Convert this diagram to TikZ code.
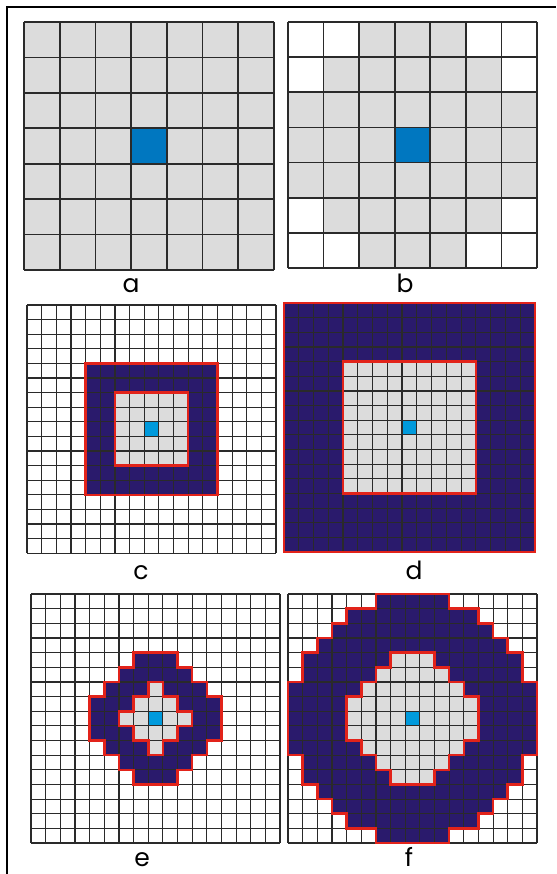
\documentclass[tikz,border=0pt]{standalone}
\usepackage{fontspec}
\setmainfont{Poppins}
\definecolor{cellgrey}{HTML}{DCDCDC}
\definecolor{navy}{HTML}{2A1A6C}
\definecolor{blueA}{HTML}{0077C0}
\definecolor{blueB}{HTML}{009ADC}
\definecolor{redline}{HTML}{E2231A}
\definecolor{gridline}{HTML}{2A2A2A}
\tikzset{
  coarse/.style={draw=gridline, line width=1.8pt},
  fine/.style={draw=gridline, line width=1.2pt},
  redb/.style={draw=redline, line width=2.6pt, line join=miter},
  lab/.style={font=\fontsize{25}{25}\selectfont, anchor=base, inner sep=0pt},
  frame/.style={draw=black, line width=2.5pt}
}
\begin{document}
\begin{tikzpicture}[x=1pt,y=-1pt]
\useasboundingbox (0,0) rectangle (556,874);
\fill[white] (0,0) rectangle (556,874);
% frame
\draw[frame] (7,874) -- (7,7) -- (556,7);

% ---- grid a ----
\begin{scope}[shift={(24pt,-22pt)}, x=35.71pt, y=-35.43pt]
  \fill[cellgrey] (0,0) rectangle (7,7);
  \fill[blueA] (3,3) rectangle (4,4);
  \foreach \i in {0,...,7} {\draw[coarse] (\i,0) -- (\i,7); \draw[coarse] (0,\i) -- (7,\i);}
\end{scope}

% ---- grid b ----
\begin{scope}[shift={(288pt,-22pt)}, x=35.57pt, y=-35.14pt]
  \fill[cellgrey] (0,0) rectangle (7,7);
  \foreach \c/\r in {0/0,1/0,5/0,6/0,0/1,6/1,0/5,6/5,0/6,1/6,5/6,6/6}
    {\fill[white] (\c,\r) rectangle ++(1,1);}
  \fill[blueA] (3,3) rectangle (4,4);
  \foreach \i in {0,...,7} {\draw[coarse] (\i,0) -- (\i,7); \draw[coarse] (0,\i) -- (7,\i);}
\end{scope}

% ---- grid c ----
\begin{scope}[shift={(27pt,-305pt)}, x=14.65pt, y=-14.6pt]
  \fill[navy] (4,4) rectangle (13,13);
  \fill[cellgrey] (6,6) rectangle (11,11);
  \fill[blueB] (8,8) rectangle (9,9);
  \foreach \i in {0,...,17} {\draw[fine] (\i,0) -- (\i,17); \draw[fine] (0,\i) -- (17,\i);}
  \draw[redb] (4,4) rectangle (13,13);
  \draw[redb] (6,6) rectangle (11,11);
\end{scope}

% ---- grid d ----
\begin{scope}[shift={(284pt,-303pt)}, x=14.76pt, y=-14.65pt]
  \fill[navy] (0,0) rectangle (17,17);
  \fill[cellgrey] (4,4) rectangle (13,13);
  \fill[blueB] (8,8) rectangle (9,9);
  \foreach \i in {0,...,17} {\draw[fine] (\i,0) -- (\i,17); \draw[fine] (0,\i) -- (17,\i);}
  \draw[redb] (0,0) rectangle (17,17);
  \draw[redb] (4,4) rectangle (13,13);
\end{scope}

% ---- grid e ----
\begin{scope}[shift={(31pt,-594pt)}, x=14.65pt, y=-14.65pt]
  \fill[navy] (7,4) -- (10,4) -- (10,5) -- (11,5) -- (11,6) -- (12,6) -- (12,7) -- (13,7) -- (13,10) -- (12,10) -- (12,11) -- (11,11) -- (11,12) -- (10,12) -- (10,13) -- (7,13) -- (7,12) -- (6,12) -- (6,11) -- (5,11) -- (5,10) -- (4,10) -- (4,7) -- (5,7) -- (5,6) -- (6,6) -- (6,5) -- (7,5) -- cycle;
  \fill[cellgrey] (8,6) -- (9,6) -- (9,7) -- (10,7) -- (10,8) -- (11,8) -- (11,9) -- (10,9) -- (10,10) -- (9,10) -- (9,11) -- (8,11) -- (8,10) -- (7,10) -- (7,9) -- (6,9) -- (6,8) -- (7,8) -- (7,7) -- (8,7) -- cycle;
  \fill[blueB] (8,8) rectangle (9,9);
  \foreach \i in {0,...,17} {\draw[fine] (\i,0) -- (\i,17); \draw[fine] (0,\i) -- (17,\i);}
  \draw[redb] (7,4) -- (10,4) -- (10,5) -- (11,5) -- (11,6) -- (12,6) -- (12,7) -- (13,7) -- (13,10) -- (12,10) -- (12,11) -- (11,11) -- (11,12) -- (10,12) -- (10,13) -- (7,13) -- (7,12) -- (6,12) -- (6,11) -- (5,11) -- (5,10) -- (4,10) -- (4,7) -- (5,7) -- (5,6) -- (6,6) -- (6,5) -- (7,5) -- cycle;
  \draw[redb] (8,6) -- (9,6) -- (9,7) -- (10,7) -- (10,8) -- (11,8) -- (11,9) -- (10,9) -- (10,10) -- (9,10) -- (9,11) -- (8,11) -- (8,10) -- (7,10) -- (7,9) -- (6,9) -- (6,8) -- (7,8) -- (7,7) -- (8,7) -- cycle;
\end{scope}

% ---- grid f ----
\begin{scope}[shift={(288pt,-594pt)}, x=14.65pt, y=-14.65pt]
  \fill[navy] (6,0) -- (11,0) -- (11,1) -- (13,1) -- (13,2) -- (14,2) -- (14,3) -- (15,3) -- (15,4) -- (16,4) -- (16,6) -- (17,6) -- (17,11) -- (16,11) -- (16,13) -- (15,13) -- (15,14) -- (14,14) -- (14,15) -- (13,15) -- (13,16) -- (11,16) -- (11,17) -- (6,17) -- (6,16) -- (4,16) -- (4,15) -- (3,15) -- (3,14) -- (2,14) -- (2,13) -- (1,13) -- (1,11) -- (0,11) -- (0,6) -- (1,6) -- (1,4) -- (2,4) -- (2,3) -- (3,3) -- (3,2) -- (4,2) -- (4,1) -- (6,1) -- cycle;
  \fill[cellgrey] (7,4) -- (10,4) -- (10,5) -- (11,5) -- (11,6) -- (12,6) -- (12,7) -- (13,7) -- (13,10) -- (12,10) -- (12,11) -- (11,11) -- (11,12) -- (10,12) -- (10,13) -- (7,13) -- (7,12) -- (6,12) -- (6,11) -- (5,11) -- (5,10) -- (4,10) -- (4,7) -- (5,7) -- (5,6) -- (6,6) -- (6,5) -- (7,5) -- cycle;
  \fill[blueB] (8,8) rectangle (9,9);
  \foreach \i in {0,...,17} {\draw[fine] (\i,0) -- (\i,17); \draw[fine] (0,\i) -- (17,\i);}
  \draw[redb] (6,0) -- (11,0) -- (11,1) -- (13,1) -- (13,2) -- (14,2) -- (14,3) -- (15,3) -- (15,4) -- (16,4) -- (16,6) -- (17,6) -- (17,11) -- (16,11) -- (16,13) -- (15,13) -- (15,14) -- (14,14) -- (14,15) -- (13,15) -- (13,16) -- (11,16) -- (11,17) -- (6,17) -- (6,16) -- (4,16) -- (4,15) -- (3,15) -- (3,14) -- (2,14) -- (2,13) -- (1,13) -- (1,11) -- (0,11) -- (0,6) -- (1,6) -- (1,4) -- (2,4) -- (2,3) -- (3,3) -- (3,2) -- (4,2) -- (4,1) -- (6,1) -- cycle;
  \draw[redb] (7,4) -- (10,4) -- (10,5) -- (11,5) -- (11,6) -- (12,6) -- (12,7) -- (13,7) -- (13,10) -- (12,10) -- (12,11) -- (11,11) -- (11,12) -- (10,12) -- (10,13) -- (7,13) -- (7,12) -- (6,12) -- (6,11) -- (5,11) -- (5,10) -- (4,10) -- (4,7) -- (5,7) -- (5,6) -- (6,6) -- (6,5) -- (7,5) -- cycle;
\end{scope}

% ---- labels ----
\node[lab] (la) at (131,292) {a};
\node[lab] (lb) at (405,292) {b};
\node[lab] (lc) at (141,579) {c};
\node[lab] (ld) at (414,579) {d};
\node[lab] (le) at (142,866) {e};
\node[lab] (lf) at (409,866) {f};
\end{tikzpicture}
\end{document}
